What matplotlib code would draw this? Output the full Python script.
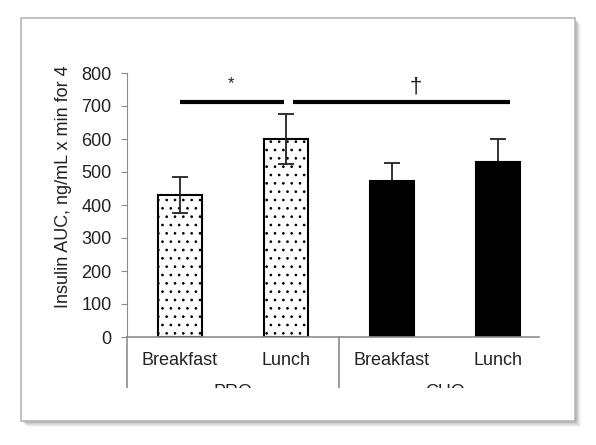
import matplotlib
matplotlib.use("Agg")
import matplotlib.pyplot as plt
from matplotlib.patches import Rectangle

# data
meals = ["Breakfast", "Lunch", "Breakfast", "Lunch"]
groups = ["PRO", "CHO"]
auc = [430, 600, 474, 529]
sem = [55, 77, 52, 71]
sig_marks = ["*", "\u2020"]

plt.rcParams['font.family'] = ['Liberation Sans', 'DejaVu Sans']
plt.rcParams['hatch.linewidth'] = 0.7
plt.rcParams['hatch.color'] = '#333333'
W, H = 596, 445
fig = plt.figure(figsize=(W / 100, H / 100), dpi=100)


def fx(px):
    return px / W


def fy(py):
    return 1 - py / H


# picture frame with a soft shadow (right and bottom)
for k, a in [(6, 0.05), (5, 0.07), (4, 0.09), (3, 0.12), (2, 0.16), (1, 0.2)]:
    fig.patches.append(Rectangle((fx(21 + k), fy(421 + k)), fx(554), 403 / H,
                                 transform=fig.transFigure, facecolor='#606060',
                                 edgecolor='none', alpha=a, zorder=-2))
fig.patches.append(Rectangle((fx(21), fy(421)), fx(554), 403 / H, transform=fig.transFigure,
                             facecolor='white', edgecolor='none', zorder=-1))

ax = fig.add_axes([fx(127), fy(337), fx(551 - 127), (337 - 73) / H])
ax.set_facecolor('none')

x = list(range(len(auc)))
# PRO bars: white with dots, CHO bars: solid black
styles = [dict(color='white', hatch='..', ez=3), dict(color='white', hatch='..', ez=3),
          dict(color='black', hatch=None, ez=1), dict(color='black', hatch=None, ez=1)]
for i in x:
    ax.bar(i, auc[i], width=0.41, color=styles[i]['color'], hatch=styles[i]['hatch'],
           edgecolor='black', linewidth=1.5, zorder=2)
    ax.errorbar(i, auc[i], yerr=sem[i], fmt='none', ecolor='#222222', elinewidth=1.3,
                capsize=5.5, capthick=1.3, zorder=styles[i]['ez'])

ax.set_xlim(-0.5, 3.5)
ax.set_ylim(0, 800)
ax.set_yticks(range(0, 801, 100))
for s in ['top', 'right', 'bottom']:
    ax.spines[s].set_visible(False)
ax.spines['left'].set_color('#8c8c8c')
ax.tick_params(axis='y', length=4, color='#8c8c8c', pad=7, labelsize=13, labelcolor='#222222')
ax.set_xticks(x)
ax.set_xticklabels(meals)
ax.tick_params(axis='x', length=0, pad=11, labelsize=13, labelcolor='#222222')

# category axis: baseline and group separators
xt = ax.get_xaxis_transform()
ax.plot([-0.5, 3.39], [0, 0], color='#8c8c8c', lw=1.2, transform=xt, clip_on=False)
for sx in [-0.5, 1.5]:
    ax.plot([sx, sx], [0, -0.193], color='#8c8c8c', lw=1.2, transform=xt, clip_on=False)
for gx, g in zip([0.5, 2.5], groups):
    ax.text(gx, -0.21, g, transform=xt, ha='center', va='center', fontsize=13, color='#222222')

# significance bars
ax.plot([0, 0.98], [711, 711], color='black', lw=3, solid_capstyle='butt')
ax.plot([1.07, 3.11], [711, 711], color='black', lw=3, solid_capstyle='butt')
ax.text(0.48, 768, sig_marks[0], ha='center', va='center', fontsize=12, color='#222222')
ax.text(2.22, 757, sig_marks[1], ha='center', va='center', fontsize=16, color='#222222')

fig.text(fx(63), fy(187), "Insulin AUC, ng/mL x min for 4", rotation=90,
         ha='center', va='center', fontsize=13, color='#222222')

# the picture is cut off below the group labels
fig.patches.append(Rectangle((fx(22), fy(420)), fx(552), 32 / H, transform=fig.transFigure,
                             facecolor='white', edgecolor='none', zorder=5))
fig.patches.append(Rectangle((fx(21), fy(421)), fx(554), 403 / H, transform=fig.transFigure,
                             facecolor='none', edgecolor='#b8b8b8', lw=1.2, zorder=6))

fig.savefig("out.png", dpi=100)
